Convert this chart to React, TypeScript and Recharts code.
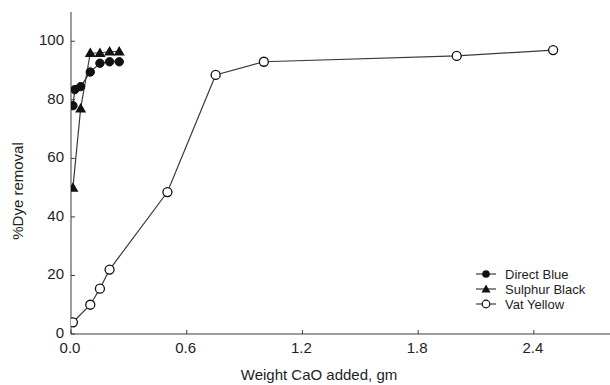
import { LineChart, Line, XAxis, YAxis } from 'recharts'

// Weight CaO added (gm) vs % dye removal
const directBlue = [
  { x: 0.01, y: 78 },
  { x: 0.02, y: 83.5 },
  { x: 0.05, y: 84.5 },
  { x: 0.1, y: 89.5 },
  { x: 0.15, y: 92.5 },
  { x: 0.2, y: 93 },
  { x: 0.25, y: 93 },
]

const sulphurBlack = [
  { x: 0.01, y: 50 },
  { x: 0.05, y: 77 },
  { x: 0.1, y: 96 },
  { x: 0.15, y: 96 },
  { x: 0.2, y: 96.5 },
  { x: 0.25, y: 96.5 },
]

const vatYellow = [
  { x: 0.01, y: 4 },
  { x: 0.1, y: 10 },
  { x: 0.15, y: 15.5 },
  { x: 0.2, y: 22 },
  { x: 0.5, y: 48.5 },
  { x: 0.75, y: 88.5 },
  { x: 1.0, y: 93 },
  { x: 2.0, y: 95 },
  { x: 2.5, y: 97 },
]

const xTicks = [0, 0.6, 1.2, 1.8, 2.4]
const yTicks = [0, 20, 40, 60, 80, 100]

const FONT = 'Liberation Sans, Arial, sans-serif'
const INK = '#1e1e1e'
const LINE = '#3a3a3a'

// eslint-disable-next-line @typescript-eslint/no-explicit-any
function BottomTick({ x, y, payload }: any) {
  return (
    <g>
      <line x1={x} y1={y} x2={x} y2={y - 4} stroke={LINE} />
      <text x={x - 1} y={y + 19} textAnchor="middle" fill={INK} fontSize={15} fontFamily={FONT}>
        {Number(payload.value).toFixed(1)}
      </text>
    </g>
  )
}

// eslint-disable-next-line @typescript-eslint/no-explicit-any
function TopTick({ x, y }: any) {
  return <line x1={x} y1={y} x2={x} y2={y + 4} stroke={LINE} />
}

// eslint-disable-next-line @typescript-eslint/no-explicit-any
function LeftTick({ x, y, payload }: any) {
  return (
    <g>
      <line x1={x} y1={y} x2={x + 4} y2={y} stroke={LINE} />
      <text x={x - 7} y={y + 4} textAnchor="end" fill={INK} fontSize={15} fontFamily={FONT}>
        {payload.value}
      </text>
    </g>
  )
}

// eslint-disable-next-line @typescript-eslint/no-explicit-any
function XLabel({ viewBox }: any) {
  return (
    <text x={viewBox.x + viewBox.width / 2 - 22} y={viewBox.y + 46} textAnchor="middle" fill={INK} fontSize={15} fontFamily={FONT}>
      Weight CaO added, gm
    </text>
  )
}

// eslint-disable-next-line @typescript-eslint/no-explicit-any
function YLabel({ viewBox }: any) {
  const cx = viewBox.x + 23
  const cy = viewBox.y + viewBox.height / 2 + 18
  return (
    <text x={cx} y={cy} transform={`rotate(-90 ${cx} ${cy})`} textAnchor="middle" fill={INK} fontSize={15} fontFamily={FONT}>
      %Dye removal
    </text>
  )
}

// eslint-disable-next-line @typescript-eslint/no-explicit-any
function FilledDot({ cx, cy, index }: any) {
  return <circle key={`b${index}`} cx={cx} cy={cy} r={4.2} fill="#111" stroke="#111" />
}

// eslint-disable-next-line @typescript-eslint/no-explicit-any
function TriangleDot({ cx, cy, index }: any) {
  return (
    <path
      key={`s${index}`}
      d={`M${cx},${cy - 5.5} L${cx + 5.5},${cy + 4} L${cx - 5.5},${cy + 4} Z`}
      fill="#111"
    />
  )
}

// eslint-disable-next-line @typescript-eslint/no-explicit-any
function OpenDot({ cx, cy, index }: any) {
  return <circle key={`v${index}`} cx={cx} cy={cy} r={4.5} fill="#fff" stroke="#111" strokeWidth={1.3} />
}

const legendItems = [
  { name: 'Direct Blue', kind: 'filled' },
  { name: 'Sulphur Black', kind: 'triangle' },
  { name: 'Vat Yellow', kind: 'open' },
]

function LegendBox() {
  return (
    <svg width={150} height={50} style={{ overflow: 'visible', display: 'block' }}>
      {legendItems.map((it, i) => {
        const cy = 8 + i * 15
        const cx = 16
        return (
          <g key={it.name}>
            <line x1={cx - 10} y1={cy} x2={cx + 10} y2={cy} stroke={LINE} strokeWidth={1.2} />
            {it.kind === 'filled' && <circle cx={cx} cy={cy} r={3.8} fill="#111" />}
            {it.kind === 'triangle' && (
              <path d={`M${cx},${cy - 4.5} L${cx + 4.5},${cy + 3.5} L${cx - 4.5},${cy + 3.5} Z`} fill="#111" />
            )}
            {it.kind === 'open' && <circle cx={cx} cy={cy} r={3.8} fill="#fff" stroke="#111" strokeWidth={1.2} />}
            <text x={cx + 19} y={cy + 4.5} fontSize={13} fill={INK} fontFamily={FONT}>
              {it.name}
            </text>
          </g>
        )
      })}
    </svg>
  )
}

export default function App() {
  return (
    <div style={{ position: 'absolute', left: 0, top: 0, width: 610, height: 385, overflow: 'hidden', background: '#fff' }}>
      <LineChart width={612} height={385} margin={{ top: 12, right: 1, left: 0, bottom: 0 }}>
        <XAxis
          xAxisId="top"
          orientation="top"
          type="number"
          dataKey="x"
          domain={[0, 2.8]}
          ticks={xTicks}
          height={0}
          tickSize={0}
          tickMargin={0}
          tickLine={false}
          tick={<TopTick />}
          axisLine={{ stroke: LINE }}
          allowDataOverflow
        />
        <XAxis
          type="number"
          dataKey="x"
          domain={[0, 2.8]}
          ticks={xTicks}
          height={51}
          tickSize={0}
          tickMargin={0}
          tickLine={false}
          tick={<BottomTick />}
          axisLine={{ stroke: LINE }}
          allowDataOverflow
          label={<XLabel />}
        />
        <YAxis
          type="number"
          domain={[0, 110]}
          ticks={yTicks}
          width={71}
          tickSize={0}
          tickMargin={0}
          tickLine={false}
          tick={<LeftTick />}
          axisLine={{ stroke: LINE }}
          allowDataOverflow
          label={<YLabel />}
        />
        <Line
          data={vatYellow}
          dataKey="y"
          name="Vat Yellow"
          stroke={LINE}
          strokeWidth={1.2}
          dot={<OpenDot />}
          isAnimationActive={false}
        />
        <Line
          data={directBlue}
          dataKey="y"
          name="Direct Blue"
          stroke={LINE}
          strokeWidth={1.2}
          dot={<FilledDot />}
          isAnimationActive={false}
        />
        <Line
          data={sulphurBlack}
          dataKey="y"
          name="Sulphur Black"
          stroke={LINE}
          strokeWidth={1.2}
          dot={<TriangleDot />}
          isAnimationActive={false}
        />
      </LineChart>
      <div style={{ position: 'absolute', left: 470, top: 266 }}>
        <LegendBox />
      </div>
    </div>
  )
}
